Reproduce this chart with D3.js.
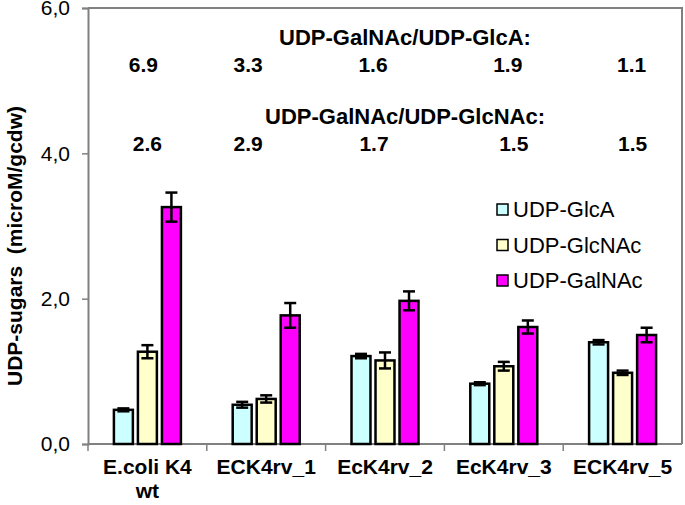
<!DOCTYPE html>
<html>
<head>
<meta charset="utf-8">
<script src="https://cdn.jsdelivr.net/npm/d3@7"></script>
<style>
  body { margin: 0; background: #fff; }
  svg { display: block; font-family: "Liberation Sans", Arial, sans-serif; }
</style>
</head>
<body>
<div id="chart"></div>
<script>
// strains on the x axis (second line after \n)
let strains = ["E.coli K4\nwt", "ECK4rv_1", "EcK4rv_2", "EcK4rv_3", "ECK4rv_5"];
let sugars = ["UDP-GlcA", "UDP-GlcNAc", "UDP-GalNAc"];
let sugarColors = ["#ccffff", "#ffffcc", "#ff00ff"];

// concentrations (microM/gcdw) and error bars
let glcA = [0.47, 0.54, 1.21, 0.83, 1.40];
let glcAErr = [0.02, 0.04, 0.03, 0.02, 0.03];
let glcNAc = [1.27, 0.62, 1.15, 1.07, 0.98];
let glcNAcErr = [0.09, 0.05, 0.11, 0.06, 0.03];
let galNAc = [3.26, 1.77, 1.97, 1.61, 1.50];
let galNAcErr = [0.20, 0.17, 0.13, 0.09, 0.10];

// ratios printed above the bars
let ratioGlcA = ["6.9", "3.3", "1.6", "1.9", "1.1"];
let ratioGlcNAc = ["2.6", "2.9", "1.7", "1.5", "1.5"];

let yTicks = [0, 2, 4, 6];

let width = 685, height = 505;
let margin = {top: 8, right: 3, bottom: 61, left: 88};

let svg = d3.select("#chart")
    .append("svg")
    .attr("width", width)
    .attr("height", height);

let x = d3.scaleBand()
    .domain(strains)
    .range([margin.left, width - margin.right]);

let xSub = d3.scaleBand()
    .domain(sugars)
    .range([-33.5, 33.5])
    .paddingInner(0.21);

let y = d3.scaleLinear()
    .domain([0, 6])
    .range([height - margin.bottom, margin.top]);

// frame (top + right)
svg.append("path")
    .attr("d", "M" + margin.left + "," + y(6) + "H" + (width - margin.right) + "V" + y(0))
    .attr("fill", "none")
    .attr("stroke", "#808080")
    .attr("stroke-width", 2);

// y axis
let yAxis = svg.append("g")
    .attr("transform", "translate(" + margin.left + ",0)")
    .call(d3.axisLeft(y).tickValues(yTicks).tickSize(6).tickPadding(12)
        .tickFormat(d => d3.format(".1f")(d).replace(".", ",")));
yAxis.select(".domain").attr("stroke", "#808080").attr("stroke-width", 2);
yAxis.selectAll(".tick line").attr("stroke", "#808080").attr("stroke-width", 1.5);
yAxis.selectAll(".tick text")
    .attr("font-size", 21)
    .attr("fill", "#000")
    .attr("font-family", "Liberation Sans, Arial, sans-serif");

// x axis: baseline with ticks between groups
let xAxis = svg.append("g")
    .attr("transform", "translate(0," + y(0) + ")");
xAxis.append("line")
    .attr("x1", margin.left).attr("x2", width - margin.right)
    .attr("stroke", "#808080").attr("stroke-width", 2);
xAxis.selectAll(".xt")
    .data(strains)
    .enter()
    .append("line")
    .attr("class", "xt")
    .attr("x1", d => x(d)).attr("x2", d => x(d))
    .attr("y1", 0).attr("y2", 7)
    .attr("stroke", "#808080").attr("stroke-width", 1.5);

let labels = xAxis.selectAll(".xl")
    .data(strains)
    .enter()
    .append("text")
    .attr("class", "xl")
    .attr("text-anchor", "middle")
    .attr("font-size", 21)
    .attr("font-weight", "bold");
labels.each(function(d){
    let lines = d.split("\n");
    let t = d3.select(this);
    lines.forEach(function(line, i){
        t.append("tspan")
            .attr("x", x(d) + x.bandwidth() / 2)
            .attr("y", 30 + i * 24)
            .text(line);
    });
});

// bars
let series = [
    {name: sugars[0], vals: glcA, errs: glcAErr, color: sugarColors[0]},
    {name: sugars[1], vals: glcNAc, errs: glcNAcErr, color: sugarColors[1]},
    {name: sugars[2], vals: galNAc, errs: galNAcErr, color: sugarColors[2]}
];

series.forEach(function(s){
    let g = svg.append("g");
    let cx = i => x(strains[i]) + x.bandwidth() / 2 + xSub(s.name);
    g.selectAll("rect")
        .data(s.vals)
        .enter()
        .append("rect")
        .attr("x", (d, i) => cx(i))
        .attr("y", d => y(d))
        .attr("width", xSub.bandwidth())
        .attr("height", d => y(0) - y(d))
        .attr("fill", s.color)
        .attr("stroke", "#000")
        .attr("stroke-width", 2.5);

    // error bars
    let mid = i => cx(i) + xSub.bandwidth() / 2;
    let eb = g.selectAll(".eb")
        .data(s.vals)
        .enter()
        .append("g")
        .attr("class", "eb")
        .attr("stroke", "#000")
        .attr("stroke-width", 2.5);
    eb.append("line")
        .attr("x1", (d, i) => mid(i)).attr("x2", (d, i) => mid(i))
        .attr("y1", (d, i) => y(d + s.errs[i])).attr("y2", (d, i) => y(d - s.errs[i]));
    eb.append("line")
        .attr("x1", (d, i) => mid(i) - 6).attr("x2", (d, i) => mid(i) + 6)
        .attr("y1", (d, i) => y(d + s.errs[i])).attr("y2", (d, i) => y(d + s.errs[i]));
    eb.append("line")
        .attr("x1", (d, i) => mid(i) - 6).attr("x2", (d, i) => mid(i) + 6)
        .attr("y1", (d, i) => y(d - s.errs[i])).attr("y2", (d, i) => y(d - s.errs[i]));
});

// legend
let legend = svg.append("g")
    .attr("transform", "translate(497,209)");
let li = legend.selectAll("g")
    .data(sugars)
    .enter()
    .append("g")
    .attr("transform", (d, i) => "translate(0," + (i * 35.5) + ")");
li.append("rect")
    .attr("x", 0).attr("y", -5)
    .attr("width", 11).attr("height", 11)
    .attr("fill", (d, i) => sugarColors[i])
    .attr("stroke", "#000")
    .attr("stroke-width", 1.5);
li.append("text")
    .attr("x", 16)
    .attr("y", 8)
    .attr("font-size", 22)
    .text(d => d);

// ratio annotations
let ratioRows = [
    {title: "UDP-GalNAc/UDP-GlcA:", vals: ratioGlcA, titleY: 45, valY: 72, dx: [-4, -18, -12, 4, 9]},
    {title: "UDP-GalNAc/UDP-GlcNAc:", vals: ratioGlcNAc, titleY: 124, valY: 151, dx: [0, -18, -11, 10, 10]}
];
ratioRows.forEach(function(r){
    svg.append("text")
        .attr("x", 405)
        .attr("y", r.titleY)
        .attr("text-anchor", "middle")
        .attr("font-size", 22)
        .attr("font-weight", "bold")
        .text(r.title);
    svg.selectAll(null)
        .data(r.vals)
        .enter()
        .append("text")
        .attr("x", (d, i) => x(strains[i]) + x.bandwidth() / 2 + r.dx[i])
        .attr("y", r.valY)
        .attr("text-anchor", "middle")
        .attr("font-size", 21)
        .attr("font-weight", "bold")
        .text(d => d);
});

// y axis title
svg.append("text")
    .attr("transform", "translate(22,246) rotate(-90)")
    .attr("text-anchor", "middle")
    .attr("font-size", 21)
    .attr("font-weight", "bold")
    .attr("xml:space", "preserve")
    .text("UDP-sugars  (microM/gcdw)");
</script>
</body>
</html>
